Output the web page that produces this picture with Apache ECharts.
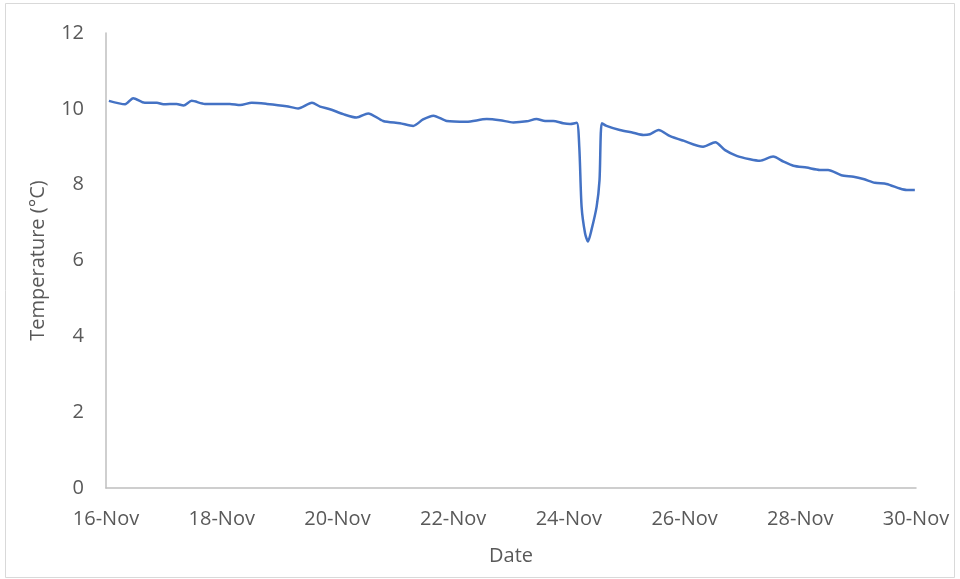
<!DOCTYPE html>
<html>
<head>
<meta charset="utf-8">
<script src="https://cdn.jsdelivr.net/npm/echarts@6/dist/echarts.min.js"></script>
<style>
html,body{margin:0;padding:0;background:#fff;}
#chart{width:960px;height:579px;}
</style>
</head>
<body>
<div id="chart"></div>
<script>
// Day of November (fractional) for each reading
const days = [16.05,16.33,16.47,16.67,16.88,16.99,17.22,17.34,17.48,17.71,18.14,18.32,18.52,18.78,19.12,19.32,19.56,19.70,19.87,20.10,20.33,20.53,20.79,21.08,21.31,21.48,21.66,21.89,22.23,22.58,22.81,23.04,23.27,23.44,23.59,23.73,23.90,24.02,24.135,24.18,24.22,24.28,24.33,24.39,24.48,24.53,24.57,24.65,24.88,25.11,25.29,25.40,25.55,25.75,25.98,26.32,26.53,26.70,26.90,27.13,27.30,27.53,27.71,27.88,28.11,28.34,28.48,28.71,28.92,29.09,29.29,29.49,29.72,29.84,29.98];
// Temperature (°C)
const temps = [10.21,10.12,10.28,10.16,10.16,10.12,10.13,10.09,10.21,10.13,10.13,10.10,10.16,10.13,10.07,10.01,10.16,10.06,9.99,9.86,9.77,9.88,9.68,9.62,9.55,9.72,9.82,9.68,9.66,9.73,9.70,9.64,9.67,9.73,9.68,9.68,9.62,9.60,9.63,9.00,7.42,6.72,6.50,6.80,7.42,8.12,9.62,9.55,9.44,9.37,9.31,9.33,9.44,9.28,9.16,9.00,9.12,8.91,8.76,8.67,8.63,8.74,8.61,8.50,8.45,8.39,8.39,8.25,8.21,8.15,8.05,8.02,7.90,7.86,7.86];
const xTickLabels = {16:'16-Nov',18:'18-Nov',20:'20-Nov',22:'22-Nov',24:'24-Nov',26:'26-Nov',28:'28-Nov',30:'30-Nov'};
const yTicks = [0,2,4,6,8,10,12];

const font = 'Open Sans';
const chart = echarts.init(document.getElementById('chart'));
chart.setOption({
  animation:false,
  backgroundColor:'#ffffff',
  graphic:[{type:'rect',shape:{x:5.5,y:3.5,width:949,height:574},style:{fill:'none',stroke:'#d9d9d9',lineWidth:1}}],
  grid:{left:106,right:44,top:33,bottom:91,containLabel:false},
  xAxis:{
    type:'value',min:16,max:30,interval:2,
    name:'Date',nameLocation:'middle',nameGap:58,
    nameTextStyle:{color:'#595959',fontSize:20,fontFamily:font},
    axisLine:{lineStyle:{color:'#bfbfbf',width:1.5}},
    axisTick:{show:false},
    splitLine:{show:false},
    axisLabel:{color:'#595959',fontSize:20,fontFamily:font,margin:21,formatter:v=>xTickLabels[v]||''}
  },
  yAxis:{
    type:'value',min:yTicks[0],max:yTicks[yTicks.length-1],interval:2,
    name:'Temperature (°C)',nameLocation:'middle',nameGap:58,
    nameTextStyle:{color:'#595959',fontSize:20,fontFamily:font},
    axisLine:{show:true,lineStyle:{color:'#bfbfbf',width:1.5}},
    axisTick:{show:false},
    splitLine:{show:false},
    axisLabel:{color:'#595959',fontSize:20,fontFamily:font,margin:22}
  },
  series:[{
    type:'line',
    data:days.map((d,i)=>[d,temps[i]]),
    smooth:0.25,
    showSymbol:false,
    lineStyle:{color:'#4472c4',width:2.5},
    itemStyle:{color:'#4472c4'}
  }]
});
</script>
</body>
</html>
